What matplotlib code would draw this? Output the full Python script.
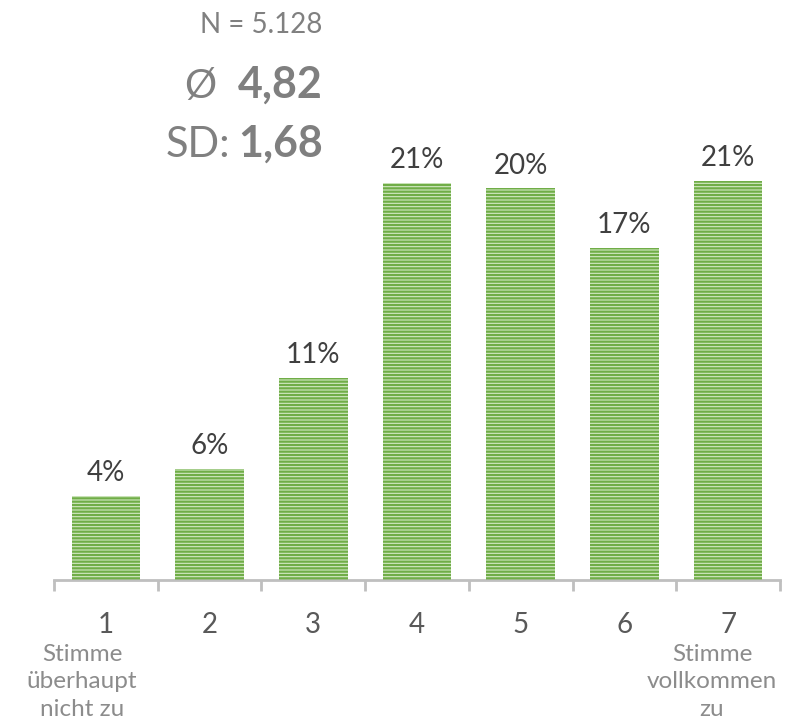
import matplotlib.pyplot as plt

categories = [1, 2, 3, 4, 5, 6, 7]
shares = [4.4, 5.8, 10.6, 20.8, 20.5, 17.4, 20.9]
share_labels = ['4%', '6%', '11%', '21%', '20%', '17%', '21%']
tick_labels = ['1', '2', '3', '4', '5', '6', '7']
low_anchor = 'Stimme\nüberhaupt\nnicht zu'
high_anchor = 'Stimme\nvollkommen\nzu'
n_text = 'N = 5.128'
mean_text = '4,82'
sd_text = '1,68'

plt.rcParams['font.family'] = ['Lato', 'DejaVu Sans']
plt.rcParams['hatch.linewidth'] = 1.6

W, H = 796, 728
fig = plt.figure(figsize=(W / 100, H / 100), dpi=100)
ax = fig.add_axes([54 / W, 148 / H, 726 / W, 477.5 / H])

green = '#70ad47'
light = '#d3e9c4'

ax.bar(categories, shares, width=0.66, color=light, linewidth=0, zorder=2)
ax.bar(categories, shares, width=0.66, facecolor='none', edgecolor=green,
       linewidth=0, hatch='-----', zorder=3)

for x, v, lab in zip(categories, shares, share_labels):
    ax.annotate(lab, (x, v), xytext=(0, 7), textcoords='offset points',
                ha='center', va='bottom', fontsize=20, color='#404040')

ax.set_xlim(0.5, 7.5)
ax.set_ylim(0, 25)
for s in ['top', 'right', 'left']:
    ax.spines[s].set_visible(False)
ax.spines['bottom'].set_color('#bfbfbf')
ax.spines['bottom'].set_linewidth(2)
ax.set_yticks([])
ax.set_xticks(categories)
ax.set_xticklabels(tick_labels, fontsize=20, color='#595959')
ax.tick_params(axis='x', which='major', length=0, pad=23)
ax.set_xticks([c + 0.5 for c in [0] + categories], minor=True)
ax.tick_params(axis='x', which='minor', length=8, width=2, color='#bfbfbf')

fig.text(82 / W, 1 - 644 / H, low_anchor, ha='center', va='top', fontsize=17.5,
         color='#8c8c8c', linespacing=1.38)
fig.text(712 / W, 1 - 644 / H, high_anchor, ha='center', va='top', fontsize=17.5,
         color='#8c8c8c', linespacing=1.38)

fig.text(322 / W, 1 - 33 / H, n_text, ha='right', va='baseline', fontsize=20,
         color='#808080')
t_mean = fig.text(323 / W, 1 - 98 / H, mean_text, ha='right', va='baseline',
                  fontsize=31, fontweight='bold', color='#7f7f7f')
t_sd = fig.text(323 / W, 1 - 157 / H, sd_text, ha='right', va='baseline',
                fontsize=31, fontweight='bold', color='#7f7f7f')

fig.canvas.draw()
r = fig.canvas.get_renderer()
x_mean = t_mean.get_window_extent(r).x0
x_sd = t_sd.get_window_extent(r).x0
fig.text((x_mean - 22) / W, 1 - 98 / H, 'Ø', ha='right', va='baseline',
         fontsize=29, color='#808080')
fig.text((x_sd - 8) / W, 1 - 157 / H, 'SD:', ha='right', va='baseline',
         fontsize=30, color='#808080')

fig.savefig('out.png', dpi=100)
